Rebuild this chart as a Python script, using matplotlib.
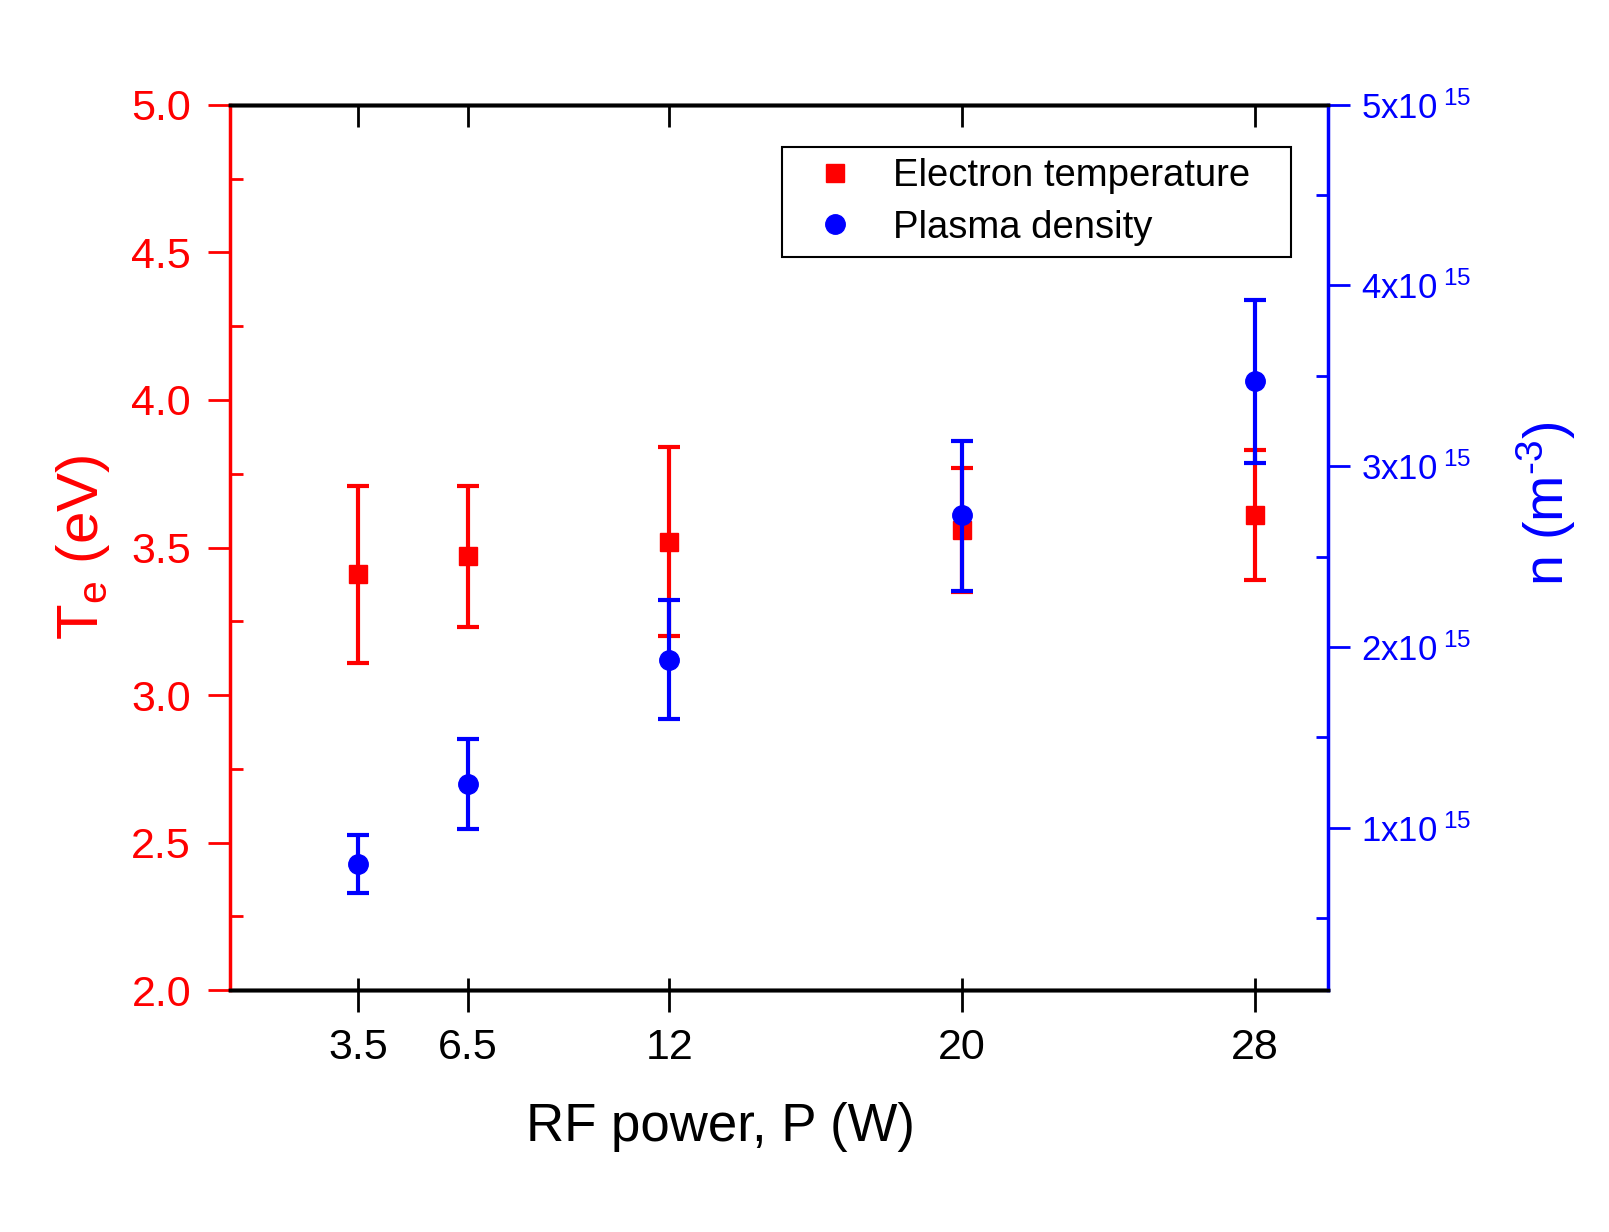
import matplotlib
matplotlib.use("Agg")
import matplotlib.pyplot as plt
from matplotlib.ticker import MultipleLocator, FixedLocator, FuncFormatter

plt.rcParams['font.family'] = ['Liberation Sans', 'DejaVu Sans']
plt.rcParams['mathtext.fontset'] = 'custom'
plt.rcParams['mathtext.rm'] = 'Liberation Sans'
plt.rcParams['mathtext.it'] = 'Liberation Sans:italic'

# data
power = [3.5, 6.5, 12, 20, 28]
te = [3.41, 3.47, 3.52, 3.56, 3.61]
te_lo = [3.11, 3.23, 3.20, 3.35, 3.39]
te_hi = [3.71, 3.71, 3.84, 3.77, 3.83]
dens = [0.80, 1.24, 1.93, 2.73, 3.47]      # x1e15 m^-3
dens_lo = [0.64, 0.99, 1.60, 2.31, 3.02]
dens_hi = [0.96, 1.49, 2.26, 3.14, 3.92]

red = "#ff0000"
blue = "#0000ff"

fig = plt.figure(figsize=(16.09, 12.32), dpi=100)
ax = fig.add_axes([0.1429, 0.1962, 0.6825, 0.7188])
ax2 = ax.twinx()

te_err = [[v - l for v, l in zip(te, te_lo)], [h - v for v, h in zip(te, te_hi)]]
n_err = [[v - l for v, l in zip(dens, dens_lo)], [h - v for v, h in zip(dens, dens_hi)]]

ax.errorbar(power, te, yerr=te_err, fmt='none', ecolor=red, elinewidth=3,
            capsize=8, capthick=3)
sq, = ax.plot(power, te, 's', color=red, markersize=12.5, linestyle='none')
ax2.errorbar(power, dens, yerr=n_err, fmt='none', ecolor=blue, elinewidth=3,
             capsize=8, capthick=3)
ci, = ax2.plot(power, dens, 'o', color=blue, markersize=14, linestyle='none')

ax.set_xlim(0, 30)
ax.set_ylim(2.0, 5.0)
ax2.set_ylim(0.1, 5.0)

ax.set_xticks(power)
ax.set_xticklabels(["3.5", "6.5", "12", "20", "28"])
ax.yaxis.set_major_locator(MultipleLocator(0.5))
ax.yaxis.set_minor_locator(MultipleLocator(0.25))
ax.yaxis.set_major_formatter(FuncFormatter(lambda v, p: "%.1f" % v))
ax2.yaxis.set_major_locator(FixedLocator([1, 2, 3, 4, 5]))
ax2.yaxis.set_minor_locator(FixedLocator([0.5, 1.5, 2.5, 3.5, 4.5]))
ax2.yaxis.set_major_formatter(FuncFormatter(lambda v, p: r"%dx10$^{\ 15}$" % round(v)))

for s in ['left', 'right', 'top', 'bottom']:
    ax.spines[s].set_linewidth(2.5)
    ax2.spines[s].set_linewidth(2.5)
ax.spines['left'].set_color(red)
ax2.spines['left'].set_visible(False)
ax2.spines['right'].set_color(blue)
ax.spines['right'].set_visible(False)

ax.tick_params(axis='x', which='major', direction='out', length=16, width=2,
               labelsize=31, pad=11, top=False)
ax.tick_params(axis='y', which='major', direction='out', length=16, width=2,
               colors=red, labelsize=31, pad=12)
ax.tick_params(axis='y', which='minor', direction='in', length=9, width=2, colors=red)
ax2.tick_params(axis='y', which='major', direction='out', length=16, width=2,
                colors=blue, labelsize=25, pad=8)
ax2.tick_params(axis='y', which='minor', direction='in', length=9, width=2, colors=blue)

# ticks pointing in along the top, and the short inner part of the bottom ticks
top = ax.secondary_xaxis('top')
top.set_xticks(power)
top.tick_params(direction='in', length=16, width=2, labeltop=False)
top.spines['top'].set_linewidth(2.5)
bot = ax.secondary_xaxis('bottom')
bot.set_xticks(power)
bot.tick_params(direction='in', length=9, width=2, labelbottom=False)
bot.spines['bottom'].set_linewidth(2.5)

ax.set_xlabel("RF power, P (W)", fontsize=38)
ax.xaxis.set_label_coords(0.447, -0.126)
ax.set_ylabel(r"T$_{\mathrm{e}}$ (eV)", fontsize=42, color=red)
ax.yaxis.set_label_coords(-0.107, 0.5)
ax2.set_ylabel("n (m$^{\u20103}$)", fontsize=40, color=blue)
ax2.yaxis.set_label_coords(1.17, 0.549)

leg = ax2.legend([sq, ci], ["Electron temperature", "Plasma density"],
                 loc='upper right', bbox_to_anchor=(0.5027, 0.5, 0.4636, 0.4525),
                 mode='expand', borderaxespad=0, fontsize=27.5, fancybox=False,
                 edgecolor='black', framealpha=1, handletextpad=0.4,
                 borderpad=0.3, labelspacing=0.4, handlelength=2.2)
leg.get_frame().set_linewidth(1.5)

fig.savefig("out.png", dpi=100)
